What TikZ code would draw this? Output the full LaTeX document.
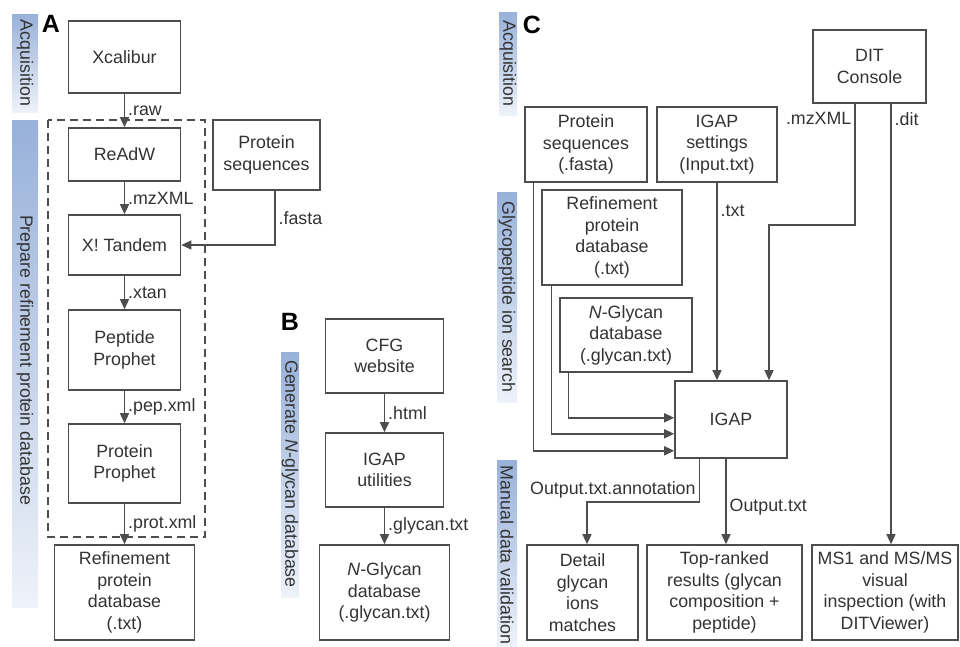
\documentclass[tikz,border=0pt]{standalone}
\usepackage{fontspec}
\setmainfont{Liberation Sans}
\usetikzlibrary{arrows.meta}
\definecolor{linegray}{HTML}{4D4D4D}
\definecolor{textgray}{HTML}{333333}
\definecolor{bandtop}{HTML}{98B1DA}
\definecolor{bandbot}{HTML}{EEF2F9}

\begin{document}
\begin{tikzpicture}[x=1pt, y=-1pt,
    box/.style={rectangle, draw=linegray, line width=1.6pt, text=textgray, align=center, inner sep=2pt, font=\fontsize{17.8}{21.5}\selectfont},
    ftype/.style={text=textgray, inner sep=3pt, font=\fontsize{17.8}{21.5}\selectfont},
    flow/.style={draw=linegray, line width=1.4pt, -{Triangle[length=10pt, width=9pt]}},
    band/.style={top color=bandtop, bottom color=bandbot, draw=none},
    bandtext/.style={rotate=-90, text=textgray, inner sep=0pt, font=\fontsize{17.8}{20}\selectfont},
    panel/.style={text=black, inner sep=0pt, font=\fontsize{25}{25}\selectfont\bfseries}]
    \useasboundingbox (0,0) rectangle (960,646);
    \fill[white] (0,0) rectangle (960,646);

    % Stage bands
    \shade[band] (12,14) rectangle (38,112);
    \node (acqA) [bandtext] at (25,63) {Acquisition};
    \shade[band] (12,120) rectangle (38,607);
    \node (prepA) [bandtext] at (25,360) {Prepare refinement protein database};
    \shade[band] (281,352) rectangle (299,597);
    \node (genB) [bandtext] at (290,474) {Generate \textit{N}-glycan database};
    \shade[band] (499,12) rectangle (517,115);
    \node (acqC) [bandtext] at (508,63.5) {Acquisition};
    \shade[band] (497,192) rectangle (517,402);
    \node (glycoC) [bandtext] at (507,297) {Glycopeptide ion search};
    \shade[band] (497,460) rectangle (517,646);
    \node (manualC) [bandtext] at (507,555) {Manual data validation};

    % Panel letters
    \node (labA) [panel] at (51,24) {A};
    \node (labB) [panel] at (290,322) {B};
    \node (labC) [panel] at (532,25) {C};

    % Panel A
    \node (xcalibur) [box, minimum width=112pt, minimum height=72pt] at (124.5,57) {Xcalibur};
    \node (readw) [box, minimum width=112pt, minimum height=53pt] at (124.5,154.5) {ReAdW};
    \node (xtandem) [box, minimum width=112pt, minimum height=60pt] at (124.5,245) {X! Tandem};
    \node (pepprophet) [box, minimum width=112pt, minimum height=80pt] at (124.5,350) {Peptide\\Prophet};
    \node (protprophet) [box, minimum width=112pt, minimum height=79pt] at (124.5,463.5) {Protein\\Prophet};
    \node (refdbA) [box, minimum width=140pt, minimum height=95pt] at (124.5,592.5) {Refinement\\protein\\database\\(.txt)};
    \node (protseqA) [box, minimum width=107pt, minimum height=70pt] at (266.5,155) {Protein\\sequences};
    \draw[linegray, line width=1.5pt, dash pattern=on 8pt off 5pt] (48,120) rectangle (205,537);

    \draw[flow] (xcalibur) -- node[ftype, right] {.raw} (readw);
    \draw[flow] (readw) -- node[ftype, right] {.mzXML} (xtandem);
    \draw[flow] (xtandem) -- node[ftype, right] {.xtan} (pepprophet);
    \draw[flow] (pepprophet) -- node[ftype, right] {.pep.xml} (protprophet);
    \draw[flow] (protprophet) -- node[ftype, right] {.prot.xml} (refdbA);
    \draw[flow] ([xshift=8.5pt]protseqA.south) |- node[ftype, right, pos=0.25] {.fasta} (xtandem.east);

    % Panel B
    \node (cfg) [box, minimum width=118pt, minimum height=74pt] at (384.5,356) {CFG\\website};
    \node (igaputil) [box, minimum width=118pt, minimum height=74pt] at (384.5,470) {IGAP\\utilities};
    \node (nglycanB) [box, minimum width=130pt, minimum height=95pt] at (384.5,592.5) {\textit{N}-Glycan\\database\\(.glycan.txt)};

    \draw[flow] (cfg) -- node[ftype, right] {.html} (igaputil);
    \draw[flow] (igaputil) -- node[ftype, right] {.glycan.txt} (nglycanB);

    % Panel C
    \node (dit) [box, minimum width=113pt, minimum height=73pt] at (869.5,66.5) {DIT\\Console};
    \node (protseqC) [box, minimum width=122pt, minimum height=75pt] at (586,144.5) {Protein\\sequences\\(.fasta)};
    \node (igapset) [box, minimum width=120pt, minimum height=75pt] at (717,144.5) {IGAP\\settings\\(Input.txt)};
    \node (refdbC) [box, minimum width=140pt, minimum height=95pt] at (612,237.5) {Refinement\\protein\\database\\(.txt)};
    \node (nglycanC) [box, minimum width=132pt, minimum height=74pt] at (626,335) {\textit{N}-Glycan\\database\\(.glycan.txt)};
    \node (igap) [box, minimum width=112pt, minimum height=77pt] at (731,419.5) {IGAP};
    \node (detail) [box, minimum width=111pt, minimum height=95pt] at (582.5,592.5) {Detail\\glycan\\ions\\matches};
    \node (toprank) [box, minimum width=155pt, minimum height=95pt] at (724.5,592.5) {Top-ranked\\results (glycan\\composition +\\peptide)};
    \node (msvisual) [box, minimum width=146pt, minimum height=95pt] at (885,592.5) {MS1 and MS/MS\\visual\\inspection (with\\DITViewer)};
    \coordinate (mzbend) at (769,225);
    \coordinate (annbend) at (587,502);

    \draw[flow] ([xshift=9pt]protseqC.south west) |- ([yshift=8pt]igap.south west);
    \draw[flow] ([xshift=10pt]refdbC.south west) |- ([yshift=25pt]igap.south west);
    \draw[flow] ([xshift=9pt]nglycanC.south west) |- ([yshift=41pt]igap.south west);
    \draw[flow] (igapset.south) -- node[ftype, right, pos=0.14] {.txt} (igapset.south |- igap.north);
    \draw[flow] ([xshift=-14.5pt]dit.south) -- node[ftype, left, pos=0.12] {.mzXML} ([xshift=-14.5pt]dit.south |- mzbend) -- (mzbend) -- (mzbend |- igap.north);
    \draw[flow] ([xshift=21.5pt]dit.south) -- node[ftype, right, pos=0.034] {.dit} ([xshift=21.5pt]dit.south |- msvisual.north);
    \draw[flow] ([xshift=25pt]igap.south west) |- node[ftype, above left, pos=0.5] {Output.txt.annotation} (annbend) -- (annbend |- detail.north);
    \draw[flow] ([xshift=-5pt]igap.south) -- node[ftype, right, pos=0.56] {Output.txt} ([xshift=-5pt]igap.south |- toprank.north);
\end{tikzpicture}
\end{document}
